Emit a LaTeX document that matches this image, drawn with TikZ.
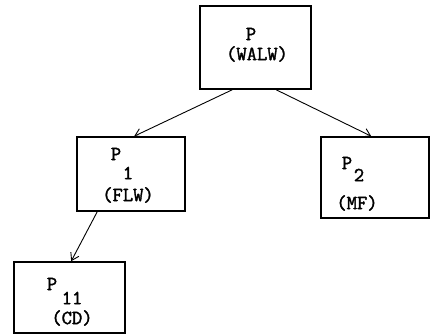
\documentclass[tikz,border=0pt]{standalone}
\usepackage{fontspec}
\setmonofont[BoldFont={Latin Modern Mono},BoldFeatures={FakeBold=1.8}]{Latin Modern Mono}
\usetikzlibrary{arrows.meta}
\tikzset{
  pbox/.style={draw, line width=1.6pt, inner sep=0pt, anchor=center},
  lbl/.style={font=\ttfamily\bfseries\fontsize{20}{20}\selectfont, inner sep=0pt, anchor=center},
  conn/.style={line width=0.9pt, -{Straight Barb[length=7pt,width=9pt]}}
}
\begin{document}
\begin{tikzpicture}[x=1pt,y=-1pt]
\useasboundingbox (0,0) rectangle (435,336);
% boxes
\node[pbox, minimum width=111pt, minimum height=83pt] (P) at (255.5,47.5) {};
\node[pbox, minimum width=108pt, minimum height=74pt] (P1) at (131,174) {};
\node[pbox, minimum width=108pt, minimum height=81pt] (P2) at (375,177.5) {};
\node[pbox, minimum width=111pt, minimum height=71pt] (P11) at (69.5,297.5) {};
% labels
\node[lbl] (tP) at (251,34) {P};
\node[lbl] (tWALW) at (257,54) {(WALW)};
\node[lbl] (tP1) at (116,154) {P};
\node[lbl] (tP1s) at (128,173) {1};
\node[lbl] (tFLW) at (128,195) {(FLW)};
\node[lbl] (tP2) at (347,163) {P};
\node[lbl] (tP2s) at (359,175) {2};
\node[lbl] (tMF) at (357,203) {(MF)};
\node[lbl] (tP11) at (52,284) {P};
\node[lbl] (tP11s) at (72,298) {11};
\node[lbl] (tCD) at (72,318) {(CD)};
% connectors
\draw[conn] ([xshift=33pt]P.south west) -- ([xshift=58pt]P1.north west);
\draw[conn] ([xshift=77pt]P.south west) -- ([xshift=51pt]P2.north west);
\draw[conn] ([xshift=21pt]P1.south west) -- ([xshift=58pt]P11.north west);
\end{tikzpicture}
\end{document}
